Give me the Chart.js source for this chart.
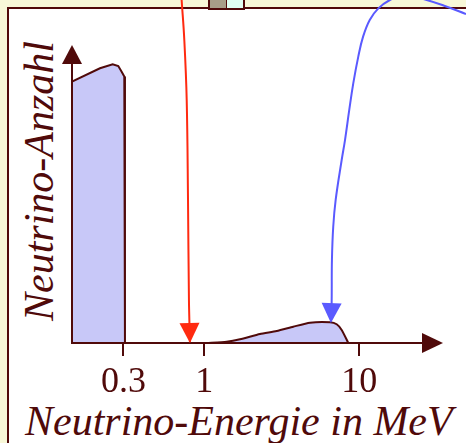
<html>
<script src="https://cdn.jsdelivr.net/npm/chart.js@4.4.0/dist/chart.umd.min.js"></script>
<style>
  body {
    margin: 0;
    width: 466px;
    height: 443px;
    overflow: hidden;
    position: relative;
    background: #f8f8d8;
  }
  #box {
    position: absolute;
    left: 7px;
    top: 7px;
    width: 600px;
    height: 600px;
    background: white;
    border: 2.5px solid #500a0a;
  }
  #topRect {
    position: absolute;
    left: 208px;
    top: -4px;
    width: 33px;
    height: 10px;
    border: 2px solid #500a0a;
    display: flex;
  }
  #topRect .gray { width: 16px; background: #a89e88; border-right: 1.5px solid #500a0a; }
  #topRect .mint { flex: 1; background: #e0fff2; }
  canvas {
    position: absolute;
    left: 0;
    top: 0;
    z-index: 2;
  }
  .title {
    position: absolute;
    font-family: 'Liberation Serif', 'Times New Roman', serif;
    font-style: italic;
    font-size: 42px;
    line-height: 42px;
    color: #500a0a;
    white-space: nowrap;
  }
  #yTitle {
    left: 18px;
    top: 321px;
    transform-origin: 0 0;
    transform: rotate(-90deg);
  }
  #xTitle {
    left: 25px;
    top: 400px;
  }
</style>

<body>
  <div id="box"></div>
  <div id="topRect"><div class="gray"></div><div class="mint"></div></div>
  <div class="title" id="yTitle">Neutrino-Anzahl</div>
  <div class="title" id="xTitle">Neutrino-Energie in MeV</div>
  <canvas id="spectrum" width="466" height="443"></canvas>
</body>

<script>
  // energy axis (MeV, log) and ticks
  var energyTicks = [0.3, 1, 10];
  var tickLabels = ['0.3', '1', '10'];

  // pp neutrinos
  var ppEnergy = [0.1396, 0.2116, 0.2557, 0.2779, 0.2922, 0.3039, 0.3069, 0.3069];
  var ppCount = [87.7, 92.2, 93.5, 92.95, 91.0, 89.4, 87.7, 0];

  // B8 neutrinos
  var b8Energy = [1.035, 1.393, 1.699, 2.286, 2.93, 3.75, 4.81, 6.48, 7.16, 7.71, 8.51];
  var b8Count = [0, 0.44, 1.24, 3.02, 4.03, 5.47, 6.81, 6.95, 6.28, 4.36, 0];

  // pointer arrows (come in from above the plot)
  var redEnergy = [0.713, 0.742, 0.769, 0.784, 0.795, 0.807];
  var redCount = [115.1, 101.7, 81.5, 48.0, 14.4, 0];
  var blueEnergy = [49.0, 35.8, 27.3, 19.76, 15.8, 13.3, 11.7, 10.6, 9.87, 9.16, 8.63, 8.10, 7.71, 7.05, 6.80, 6.67, 6.64, 6.57];
  var blueCount = [110.4, 113.1, 115.1, 116.8, 115.1, 112.3, 108.4, 102.8, 96.1, 87.1, 78.2, 68.1, 61.4, 48.0, 39.0, 27.9, 13.4, 6.7];

  var axisColor = '#500a0a';

  function toXY(xs, ys) {
    return xs.map((x, i) => ({ x: x, y: ys[i] }));
  }

  function head(ctx, tx, ty, ang, len, half, color) {
    ctx.save();
    ctx.translate(tx, ty);
    ctx.rotate(ang);
    ctx.beginPath();
    ctx.moveTo(0, 0);
    ctx.lineTo(-len, -half);
    ctx.lineTo(-len, half);
    ctx.closePath();
    ctx.fillStyle = color;
    ctx.fill();
    ctx.restore();
  }

  var arrowPlugin = {
    id: 'arrows',
    afterDatasetsDraw(chart) {
      var ctx = chart.ctx, xs = chart.scales.x, ys = chart.scales.y;
      var x0 = xs.getPixelForValue(xs.min), x1 = xs.getPixelForValue(xs.max);
      var y0 = ys.getPixelForValue(0), y1 = ys.getPixelForValue(ys.max);
      ctx.save();
      ctx.strokeStyle = axisColor;
      ctx.lineWidth = 2;
      ctx.beginPath();
      ctx.moveTo(x0 - 1, y0);
      ctx.lineTo(x1 - 20, y0);
      ctx.moveTo(x0, y0);
      ctx.lineTo(x0, y1 + 18);
      ctx.stroke();
      head(ctx, x1, y0, 0, 21, 10, axisColor);
      head(ctx, x0, y1, -Math.PI / 2, 19, 10, axisColor);
      chart.data.datasets.forEach((ds, i) => {
        if (!ds.arrowHead) return;
        var pts = chart.getDatasetMeta(i).data;
        var a = pts[pts.length - 2], b = pts[pts.length - 1];
        head(ctx, b.x, b.y, Math.atan2(b.y - a.y, b.x - a.x), 20, 10, ds.borderColor);
      });
      ctx.restore();
    }
  };

  var canvas = document.getElementById('spectrum');
  this.chart = new Chart(canvas, {
    type: 'line',
    data: {
      datasets: [
        {
          data: toXY(ppEnergy, ppCount),
          borderColor: axisColor,
          backgroundColor: '#c8c8f8',
          borderWidth: 2,
          fill: 'origin',
          tension: 0,
          pointRadius: 0
        },
        {
          data: toXY(b8Energy, b8Count),
          borderColor: axisColor,
          backgroundColor: '#c8c8f8',
          borderWidth: 2,
          fill: 'origin',
          tension: 0.2,
          pointRadius: 0
        },
        {
          data: toXY(redEnergy, redCount),
          borderColor: '#ff2a10',
          borderWidth: 2,
          fill: false,
          tension: 0.4,
          pointRadius: 0,
          clip: false,
          arrowHead: true
        },
        {
          data: toXY(blueEnergy, blueCount),
          borderColor: '#5a5aff',
          borderWidth: 2,
          fill: false,
          tension: 0.4,
          pointRadius: 0,
          clip: false,
          arrowHead: true
        }
      ]
    },
    options: {
      responsive: false,
      animation: false,
      layout: { padding: { left: 72, right: 23, top: 45, bottom: 0 } },
      plugins: { legend: { display: false }, tooltip: { enabled: false } },
      scales: {
        x: {
          type: 'logarithmic',
          min: 0.1396,
          max: 34.8,
          afterBuildTicks: scale => {
            scale.ticks = energyTicks.map(v => ({ value: v }));
          },
          afterFit: scale => { scale.height = 100; },
          border: { display: false },
          grid: {
            drawOnChartArea: false,
            drawTicks: true,
            tickLength: 13,
            color: axisColor,
            lineWidth: 2
          },
          ticks: {
            autoSkip: false,
            maxRotation: 0,
            padding: 5,
            color: axisColor,
            font: { family: 'Liberation Serif', size: 36 },
            callback: (v) => tickLabels[energyTicks.indexOf(v)]
          }
        },
        y: {
          type: 'linear',
          min: 0,
          max: 100,
          display: false
        }
      }
    },
    plugins: [arrowPlugin]
  });
</script>

</html>
